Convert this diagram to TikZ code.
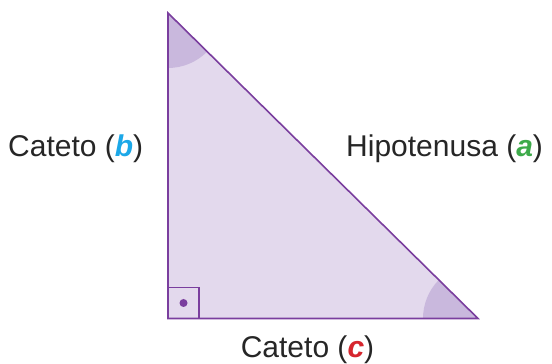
\documentclass[tikz,border=0pt]{standalone}
\usepackage{fontspec}
\setmainfont{Liberation Sans}
\usepackage{xcolor}
\usetikzlibrary{calc}

\definecolor{triline}{RGB}{122,62,158}
\definecolor{trifill}{RGB}{227,217,237}
\definecolor{angfill}{RGB}{201,184,221}
\definecolor{legb}{RGB}{28,168,232}
\definecolor{lega}{RGB}{61,170,74}
\definecolor{legc}{RGB}{214,38,46}

\begin{document}
\begin{tikzpicture}[
    x=1pt, y=1pt,
    side/.style={font=\fontsize{30}{35}\selectfont, text=black!85, inner sep=0pt, anchor=base},
    outline/.style={draw=triline, line width=1.6pt, line join=miter},
    angmark/.style={fill=angfill}
]
\useasboundingbox (0,0) rectangle (552,364);

% vertices
\coordinate (A) at (168,351);
\coordinate (B) at (168,45.5);
\coordinate (C) at (478,45.5);

\fill[trifill] (A) -- (B) -- (C) -- cycle;

% angles
\fill[angmark] (A) -- ++(-90:55) arc[start angle=-90, end angle=-44.6, radius=55] -- cycle;
\fill[angmark] (C) -- ++(180:55) arc[start angle=180, end angle=135.4, radius=55] -- cycle;

\draw[outline] (A) -- (B) -- (C) -- cycle;

% right angle
\draw[draw=triline, line width=1.2pt] (B) rectangle ++(31,31);
\fill[triline] ($(B)+(15.5,15.5)$) circle (4);

% labels
\node[side, anchor=base west] (catb) at (8,207) {Cateto ({\color{legb}\textbf{\textit{b}}})};
\node[side, anchor=base west] (hipa) at (346,207) {Hipotenusa ({\color{lega}\textbf{\textit{a}}})};
\node[side] (catc) at (307.5,6) {Cateto ({\color{legc}\textbf{\textit{c}}})};

\end{tikzpicture}
\end{document}
